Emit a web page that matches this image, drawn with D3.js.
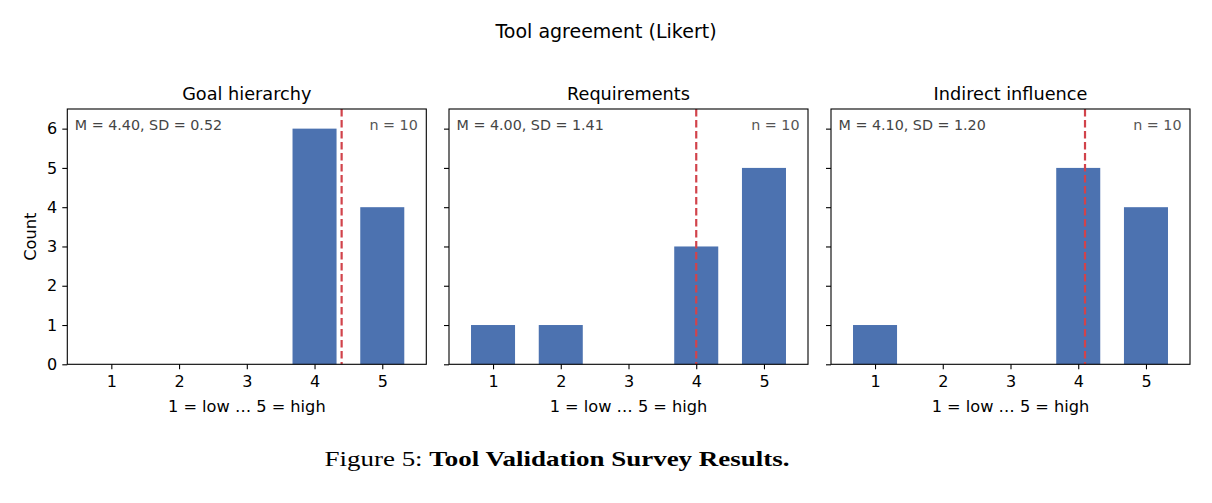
<!DOCTYPE html>
<html>
<head>
<meta charset="utf-8">
<script src="https://cdn.jsdelivr.net/npm/d3@7"></script>
<style>
  body { margin: 0; background: #fff; }
  text { font-family: "DejaVu Sans", sans-serif; fill: #000; }
</style>
</head>
<body>
<div id="chart"></div>
<script>
// Likert survey data: one panel per question
const panelTitles = ["Goal hierarchy", "Requirements", "Indirect influence"];
const ratings = [1, 2, 3, 4, 5];
const countsGoal = [0, 0, 0, 6, 4];
const countsReq = [1, 1, 0, 3, 5];
const countsIndirect = [1, 0, 0, 5, 4];
const means = [4.40, 4.00, 4.10];
const sds = [0.52, 1.41, 1.20];
const nResp = [10, 10, 10];
const yTicks = [0, 1, 2, 3, 4, 5, 6];

const allCounts = [countsGoal, countsReq, countsIndirect];

const width = 1212;
const height = 503;
const panelLeft = [67.3, 449, 831];
const panelW = 359;
const plotTop = 109, plotBottom = 364.3;

const barColor = "#4c72b0";
const meanColor = "#d1434b";

const svg = d3.select("#chart")
  .append("svg")
  .attr("width", width)
  .attr("height", height);

// shared y scale
const yScale = d3.scaleLinear()
  .domain([0, 6.5])
  .range([plotBottom, plotTop]);

// suptitle
svg.append("text")
  .attr("x", 606)
  .attr("y", 38)
  .attr("text-anchor", "middle")
  .attr("font-size", "19px")
  .text("Tool agreement (Likert)");

allCounts.forEach((counts, p) => {
  const x0 = panelLeft[p];
  const xScale = d3.scaleLinear()
    .domain([0.35, 5.65])
    .range([x0, x0 + panelW]);
  const bw = xScale(0.65) - xScale(0);

  const g = svg.append("g");

  // bars
  g.selectAll(".bar")
    .data(counts)
    .enter()
    .append("rect")
      .attr("class", "bar")
      .attr("x", (d, i) => xScale(ratings[i]) - bw / 2)
      .attr("y", d => yScale(d))
      .attr("width", bw)
      .attr("height", d => plotBottom - yScale(d))
      .attr("fill", barColor);

  // mean line
  g.append("line")
    .attr("x1", xScale(means[p]))
    .attr("x2", xScale(means[p]))
    .attr("y1", plotTop)
    .attr("y2", plotBottom)
    .attr("stroke", meanColor)
    .attr("stroke-width", 2.2)
    .attr("stroke-dasharray", "7.5,3.5");

  // x axis
  const xAxis = g.append("g")
    .attr("transform", `translate(0,${plotBottom})`)
    .call(d3.axisBottom(xScale).tickValues(ratings).tickFormat(d3.format("d"))
      .tickSize(5).tickPadding(6));
  xAxis.select(".domain").remove();
  xAxis.selectAll("line").attr("stroke", "#000").attr("stroke-width", 1.1);
  xAxis.selectAll("text").attr("font-size", "16px").attr("font-family", "DejaVu Sans");

  // y axis (labels only on first panel)
  const yAxis = g.append("g")
    .attr("transform", `translate(${x0},0)`)
    .call(d3.axisLeft(yScale).tickValues(yTicks)
      .tickFormat(p === 0 ? d3.format("d") : "")
      .tickSize(5).tickPadding(5));
  yAxis.select(".domain").remove();
  yAxis.selectAll("line").attr("stroke", "#000").attr("stroke-width", 1.1);
  yAxis.selectAll("text").attr("font-size", "16px").attr("font-family", "DejaVu Sans");

  // frame
  g.append("rect")
    .attr("x", x0)
    .attr("y", plotTop)
    .attr("width", panelW)
    .attr("height", plotBottom - plotTop)
    .attr("fill", "none")
    .attr("stroke", "#000")
    .attr("stroke-width", 1.1);

  // panel title
  g.append("text")
    .attr("x", x0 + panelW / 2)
    .attr("y", 100)
    .attr("text-anchor", "middle")
    .attr("font-size", "17.7px")
    .text(panelTitles[p]);

  // x label
  g.append("text")
    .attr("x", x0 + panelW / 2)
    .attr("y", 411.5)
    .attr("text-anchor", "middle")
    .attr("font-size", "16.2px")
    .text("1 = low \u2026 5 = high");

  // stats annotations
  g.append("text")
    .attr("x", x0 + 7.5)
    .attr("y", 129.5)
    .attr("font-size", "14.3px")
    .style("fill", "#444")
    .text(`M = ${means[p].toFixed(2)}, SD = ${sds[p].toFixed(2)}`);

  g.append("text")
    .attr("x", x0 + panelW - 8.5)
    .attr("y", 129.5)
    .attr("text-anchor", "end")
    .attr("font-size", "14.3px")
    .style("fill", "#555")
    .text(`n = ${nResp[p]}`);
});

// y label
svg.append("text")
  .attr("transform", `translate(36,${(plotTop + plotBottom) / 2}) rotate(-90)`)
  .attr("text-anchor", "middle")
  .attr("font-size", "16.2px")
  .text("Count");

// caption
const cap = svg.append("text")
  .attr("x", 557)
  .attr("y", 466)
  .attr("text-anchor", "middle")
  .attr("font-size", "22px")
  .style("font-family", "'Liberation Serif', 'DejaVu Serif', serif")
  .attr("textLength", 465)
  .attr("lengthAdjust", "spacingAndGlyphs");
cap.append("tspan").text("Figure 5: ");
cap.append("tspan").attr("font-weight", "bold").text("Tool Validation Survey Results.");
</script>
</body>
</html>
